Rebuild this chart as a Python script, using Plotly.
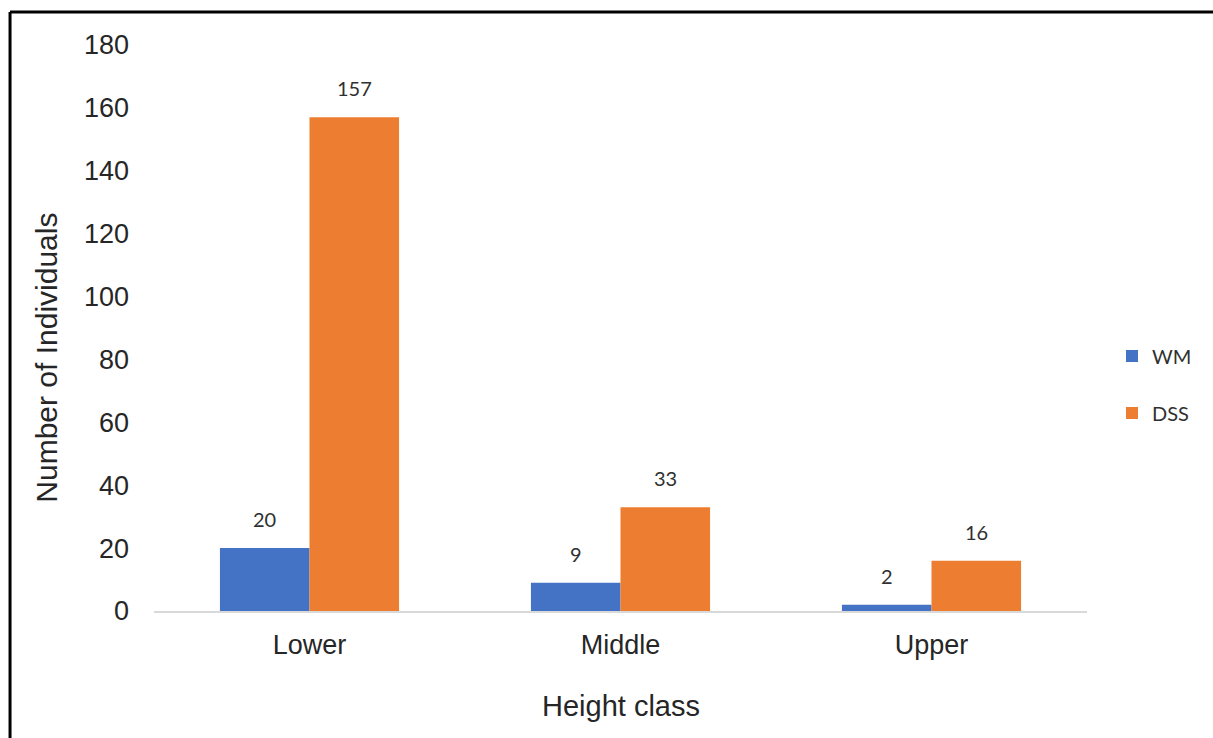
import plotly.graph_objects as go

# Height classes and individual counts for the two sites
categories = ["Lower", "Middle", "Upper"]
wm_counts = [20, 9, 2]
dss_counts = [157, 33, 16]
series_names = ["WM", "DSS"]
series_colors = ["#4472C4", "#ED7D31"]
y_ticks = [0, 20, 40, 60, 80, 100, 120, 140, 160, 180]

BAR_GAP = 0.424
AXIS_FONT = "Liberation Sans, Arial, sans-serif"
LABEL_FONT = "Lato, Carlito, Calibri, sans-serif"

fig = go.Figure()
for name, vals, color in zip(series_names, [wm_counts, dss_counts], series_colors):
    fig.add_trace(go.Bar(
        x=categories, y=vals, name=name, legendgroup=name,
        marker=dict(color=color, line=dict(width=0)),
    ))

# value labels centred above each bar
half = (1 - BAR_GAP) / 4
for s, vals in enumerate([wm_counts, dss_counts]):
    off = -half if s == 0 else half
    for i, v in enumerate(vals):
        fig.add_annotation(
            x=i + off, y=v, xref="x", yref="y", text=str(v), showarrow=False,
            yanchor="bottom", yshift=15,
            font=dict(family=LABEL_FONT, size=20, color="#303030"),
        )

# axis titles
fig.add_annotation(
    x=-0.115, y=0.447, xref="paper", yref="paper", text="Number of Individuals",
    textangle=-90, showarrow=False, xanchor="center", yanchor="middle",
    font=dict(family=AXIS_FONT, size=30, color="#262626"),
)
fig.add_annotation(
    x=0.5, y=-0.168, xref="paper", yref="paper", text="Height class",
    showarrow=False, xanchor="center", yanchor="middle",
    font=dict(family=AXIS_FONT, size=29, color="#262626"),
)

# outer frame (top and left edges)
fig.add_shape(type="line", xref="paper", yref="paper",
              x0=-0.1543, x1=1.15, y0=1.0583, y1=1.0583,
              line=dict(color="black", width=3))
fig.add_shape(type="line", xref="paper", yref="paper",
              x0=-0.1543, x1=-0.1543, y0=1.0583, y1=-0.25,
              line=dict(color="black", width=3))

fig.update_layout(
    width=1213, height=738,
    margin=dict(l=154, r=126, t=45, b=127),
    paper_bgcolor="white", plot_bgcolor="white",
    barmode="group", bargap=BAR_GAP, bargroupgap=0,
    showlegend=True,
    legend=dict(
        x=1.0268, y=0.485, xanchor="left", yanchor="top",
        traceorder="grouped", tracegroupgap=28,
        font=dict(family=LABEL_FONT, size=20, color="#303030"),
        bgcolor="rgba(0,0,0,0)",
    ),
    xaxis=dict(
        showgrid=False, showline=True, linecolor="#d9d9d9", linewidth=2,
        ticks="", ticklabelstandoff=9,
        tickfont=dict(family=AXIS_FONT, size=27, color="#262626"),
    ),
    yaxis=dict(
        range=[0, 180], tickvals=y_ticks, showgrid=False, zeroline=False,
        showline=False, ticks="", ticklabelstandoff=24,
        tickfont=dict(family=AXIS_FONT, size=27, color="#262626"),
    ),
)

fig.write_html("out.html")
